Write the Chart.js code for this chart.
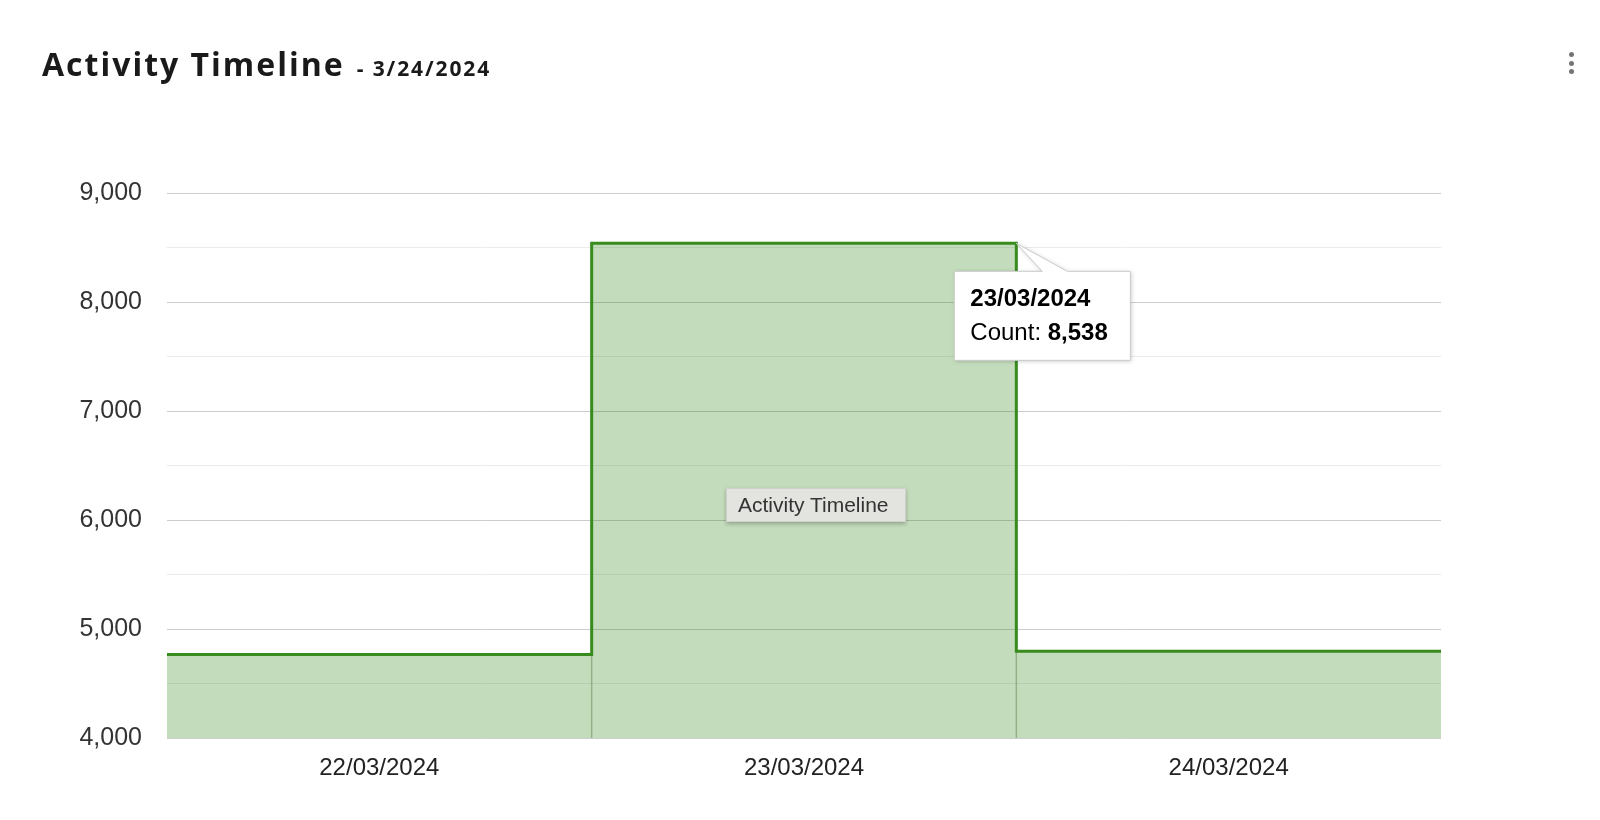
<!DOCTYPE html>
<html>
<head>
<meta charset="utf-8">
<script src="https://cdn.jsdelivr.net/npm/chart.js@4"></script>
<style>
  body { margin: 0; background: #fff; width: 1600px; height: 820px; overflow: hidden; position: relative; }
  #myChart { position: absolute; left: 0; top: 0; }
  .header { position: absolute; left: 42px; top: 48px; line-height: 32px; font-family: "Open Sans", sans-serif; font-weight: 700; color: #1a1a1a; white-space: nowrap; }
  .header .name { font-size: 32px; letter-spacing: 2px; }
  .header .date { font-size: 21px; letter-spacing: 1.9px; margin-left: 12px; }
  .dot { position: absolute; left: 1569px; width: 5px; height: 5px; border-radius: 50%; background: #757575; }
  .hover-label { position: absolute; left: 726px; top: 488px; width: 180px; height: 34px; box-sizing: border-box;
    background: #e3e3df; border: 1px solid #cfcfcb; box-shadow: 0 2px 4px rgba(0,0,0,0.25);
    font-family: "Liberation Sans", Arial, sans-serif; font-size: 21px; line-height: 32px; color: #333; padding-left: 11px; }
</style>
</head>
<body>
<canvas id="myChart" width="1600" height="820"></canvas>
<div class="header"><span class="name">Activity Timeline</span><span class="date">- 3/24/2024</span></div>
<div class="dot" style="top:52px"></div>
<div class="dot" style="top:61px"></div>
<div class="dot" style="top:69px"></div>
<div class="hover-label">Activity Timeline</div>
<script>
const categories = ["22/03/2024", "23/03/2024", "24/03/2024"];
const counts = [4766, 8538, 4796];
const seriesName = "Count";
const yMin = 4000;
const yMax = 9000;
const hoverIndex = 1;

const lineColor = "rgb(56,140,30)";
const fillColor = "rgba(56,140,30,0.3)";

// step line: one point at the right edge of every day, plus the start
const stepPoints = [{ x: 0, y: counts[0] }].concat(counts.map((v, i) => ({ x: i + 1, y: v })));

const boundaryLines = {
    id: "boundaryLines",
    beforeDatasetsDraw(chart) {
        const ctx = chart.ctx;
        const xs = chart.scales.x;
        const ys = chart.scales.y;
        ctx.save();
        ctx.strokeStyle = "rgba(60,80,50,0.35)";
        ctx.lineWidth = 1.5;
        for (let i = 1; i < counts.length; i++) {
            const px = xs.getPixelForValue(i);
            const low = Math.min(counts[i - 1], counts[i]);
            ctx.beginPath();
            ctx.moveTo(px, ys.getPixelForValue(yMin));
            ctx.lineTo(px, ys.getPixelForValue(low));
            ctx.stroke();
        }
        ctx.restore();
    }
};

const callout = {
    id: "callout",
    afterDraw(chart) {
        const ctx = chart.ctx;
        const pt = chart.getDatasetMeta(0).data[hoverIndex + 1];
        const px = pt.x, py = pt.y;
        const left = px - 62, top = py + 28, w = 176, h = 89;
        ctx.save();
        ctx.beginPath();
        ctx.moveTo(left, top);
        ctx.lineTo(px + 26, top);
        ctx.lineTo(px, py);
        ctx.lineTo(px + 51, top);
        ctx.lineTo(left + w, top);
        ctx.lineTo(left + w, top + h);
        ctx.lineTo(left, top + h);
        ctx.closePath();
        ctx.shadowColor = "rgba(0,0,0,0.22)";
        ctx.shadowBlur = 4;
        ctx.shadowOffsetX = 1;
        ctx.shadowOffsetY = 1;
        ctx.fillStyle = "#fff";
        ctx.fill();
        ctx.shadowColor = "transparent";
        ctx.strokeStyle = "#cccccc";
        ctx.lineWidth = 1;
        ctx.stroke();

        ctx.fillStyle = "#000";
        ctx.textBaseline = "alphabetic";
        ctx.font = "bold 24px 'Liberation Sans', Arial, sans-serif";
        ctx.fillText(categories[hoverIndex], left + 16, top + 35);
        ctx.font = "24px 'Liberation Sans', Arial, sans-serif";
        const lbl = seriesName + ": ";
        ctx.fillText(lbl, left + 16, top + 69);
        const lw = ctx.measureText(lbl).width;
        ctx.font = "bold 24px 'Liberation Sans', Arial, sans-serif";
        ctx.fillText(counts[hoverIndex].toLocaleString("en-US"), left + 16 + lw, top + 69);
        ctx.restore();
    }
};

const ctx = document.getElementById("myChart").getContext("2d");
const myChart = new Chart(ctx, {
    type: "line",
    data: {
        datasets: [{
            label: seriesName,
            data: stepPoints,
            stepped: "after",
            borderColor: lineColor,
            backgroundColor: fillColor,
            borderWidth: 3,
            pointRadius: 0,
            fill: "start",
        }]
    },
    options: {
        responsive: false,
        animation: false,
        devicePixelRatio: 1,
        layout: { padding: { left: 0, right: 159, top: 193, bottom: 0 } },
        plugins: {
            legend: { display: false },
            tooltip: { enabled: false },
        },
        scales: {
            x: {
                type: "linear",
                min: 0,
                max: categories.length,
                afterBuildTicks: (s) => { s.ticks = categories.map((c, i) => ({ value: i + 0.5 })); },
                afterFit: (s) => { s.height = 82; },
                grid: { display: false, drawTicks: false },
                border: { display: false },
                ticks: {
                    autoSkip: false,
                    maxRotation: 0,
                    padding: 16,
                    color: "#222",
                    font: { family: "'Liberation Sans', Arial, sans-serif", size: 24 },
                    callback: (v) => categories[Math.floor(v)],
                },
            },
            y: {
                min: yMin,
                max: yMax,
                afterFit: (s) => { s.width = 167; },
                grid: {
                    drawTicks: false,
                    color: (c) => (c.tick && c.tick.value % 1000 === 0 ? "#cccccc" : "#ebebeb"),
                },
                border: { display: false },
                ticks: {
                    stepSize: 500,
                    padding: 25,
                    color: "#333",
                    font: { family: "'Liberation Sans', Arial, sans-serif", size: 25 },
                    callback: (v) => (v % 1000 === 0 ? v.toLocaleString("en-US") : ""),
                },
            },
        },
    },
    plugins: [boundaryLines, callout],
});
</script>
</body>
</html>
